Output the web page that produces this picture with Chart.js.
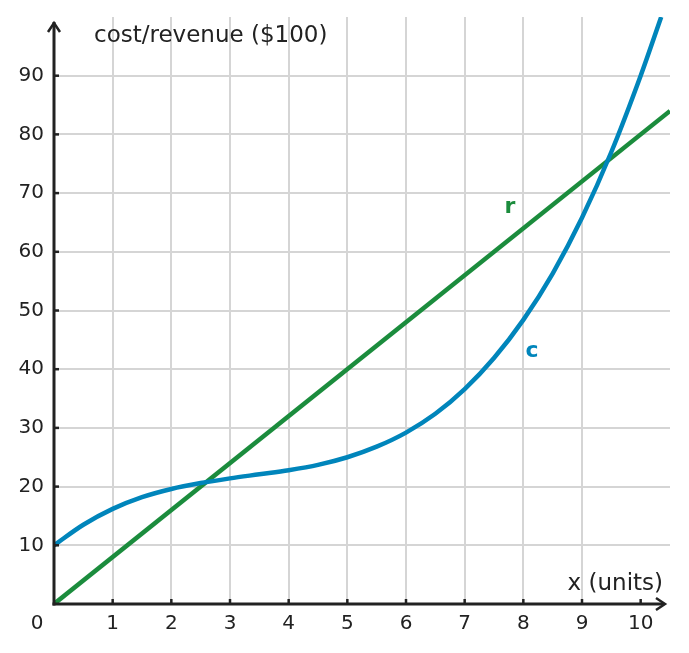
<!DOCTYPE html>
<html><head><meta charset="utf-8">
<script src="https://cdn.jsdelivr.net/npm/chart.js@4/dist/chart.umd.min.js"></script>
<style>html,body{margin:0;padding:0;background:#fff}#wrap{width:689px;height:653px}</style>
</head><body><div id="wrap"><canvas id="c" width="689" height="653"></canvas></div>
<script>
const xTickLabels = [1,2,3,4,5,6,7,8,9,10];
const yTickLabels = [10,20,30,40,50,60,70,80,90];
const costX = [0,0.5,1,1.5,2,2.5,3,3.5,4,4.5,5,5.5,6,6.5,7,7.5,8,8.5,9,9.5,10,10.35];
const costY = [10,13.5,16.2,18.2,19.6,20.6,21.4,22.1,22.8,23.7,25,26.8,29.2,32.4,36.6,41.9,48.4,56.3,65.8,77.0,90,100];
const revX = [0,10.5];
const revY = [0,84];
const yTitle = "cost/revenue ($100)";
const xTitle = "x (units)";

const FONT = "'DejaVu Sans', sans-serif";
const AX = '#222222';
const BLUE = '#0085bb';
const GREEN = '#1b8c3d';

const overlay = {
  id:'overlay',
  afterDatasetsDraw(chart){
    const ctx = chart.ctx, xs = chart.scales.x, ys = chart.scales.y;
    const x0 = xs.getPixelForValue(0), y0 = ys.getPixelForValue(0);
    ctx.save();
    ctx.strokeStyle = AX; ctx.lineWidth = 3; ctx.lineCap='butt';
    ctx.beginPath(); ctx.moveTo(x0, y0+1.5); ctx.lineTo(x0, 22); ctx.stroke();
    ctx.beginPath(); ctx.moveTo(x0-1.5, y0); ctx.lineTo(664, y0); ctx.stroke();
    ctx.lineWidth = 2.5; ctx.lineJoin='miter';
    ctx.beginPath(); ctx.moveTo(x0-6, 32); ctx.lineTo(x0, 23); ctx.lineTo(x0+6, 32); ctx.stroke();
    ctx.beginPath(); ctx.moveTo(656, y0-6); ctx.lineTo(665, y0); ctx.lineTo(656, y0+6); ctx.stroke();
    ctx.lineWidth = 2.5;
    xTickLabels.forEach(v=>{const p=xs.getPixelForValue(v);ctx.beginPath();ctx.moveTo(p,y0);ctx.lineTo(p,y0-5);ctx.stroke();});
    yTickLabels.forEach(v=>{const p=ys.getPixelForValue(v);ctx.beginPath();ctx.moveTo(x0,p);ctx.lineTo(x0+5,p);ctx.stroke();});
    ctx.fillStyle = AX;
    ctx.font = "20px " + FONT;
    ctx.textBaseline='middle';
    ctx.textAlign='center';
    xTickLabels.forEach(v=>ctx.fillText(String(v), xs.getPixelForValue(v), 624));
    ctx.fillText("0", 37, 624);
    ctx.textAlign='right';
    yTickLabels.forEach(v=>ctx.fillText(String(v), 44, ys.getPixelForValue(v)));
    ctx.font = "23px " + FONT;
    ctx.textAlign='left';
    ctx.fillText(yTitle, 94, 36);
    ctx.textAlign='right';
    ctx.fillText(xTitle, 663, 584);
    ctx.font = "bold 22px " + FONT;
    ctx.textAlign='center';
    ctx.lineWidth = 4; ctx.strokeStyle='#fff';
    ctx.strokeText('r', 510, 207); ctx.fillStyle=GREEN; ctx.fillText('r', 510, 207);
    ctx.strokeText('c', 532, 351); ctx.fillStyle=BLUE; ctx.fillText('c', 532, 351);
    ctx.restore();
  }
};

const gridColor = (ctx)=>{const v=ctx.tick && ctx.tick.value; return (v>0 && Number.isInteger(v) && v!==100) ? '#d5d5d5' : 'rgba(0,0,0,0)';};

new Chart(document.getElementById('c'), {
  type:'scatter',
  data:{datasets:[
    {data: costX.map((x,i)=>({x, y:costY[i]})), showLine:true, borderColor:BLUE, borderWidth:4.5, pointRadius:0, cubicInterpolationMode:'monotone', fill:false},
    {data: revX.map((x,i)=>({x, y:revY[i]})), showLine:true, borderColor:GREEN, borderWidth:4.5, pointRadius:0, fill:false}
  ]},
  options:{
    responsive:false, animation:false, devicePixelRatio:1,
    layout:{padding:{left:54,right:19,top:17,bottom:49}},
    plugins:{legend:{display:false}, tooltip:{enabled:false}},
    scales:{
      x:{type:'linear', min:0, max:10.5, ticks:{display:false, stepSize:1}, border:{display:false}, grid:{color:gridColor, lineWidth:2, drawTicks:false}},
      y:{type:'linear', min:0, max:100, ticks:{display:false, stepSize:10}, border:{display:false}, grid:{color:gridColor, lineWidth:2, drawTicks:false}}
    }
  },
  plugins:[overlay]
});
</script></body></html>
